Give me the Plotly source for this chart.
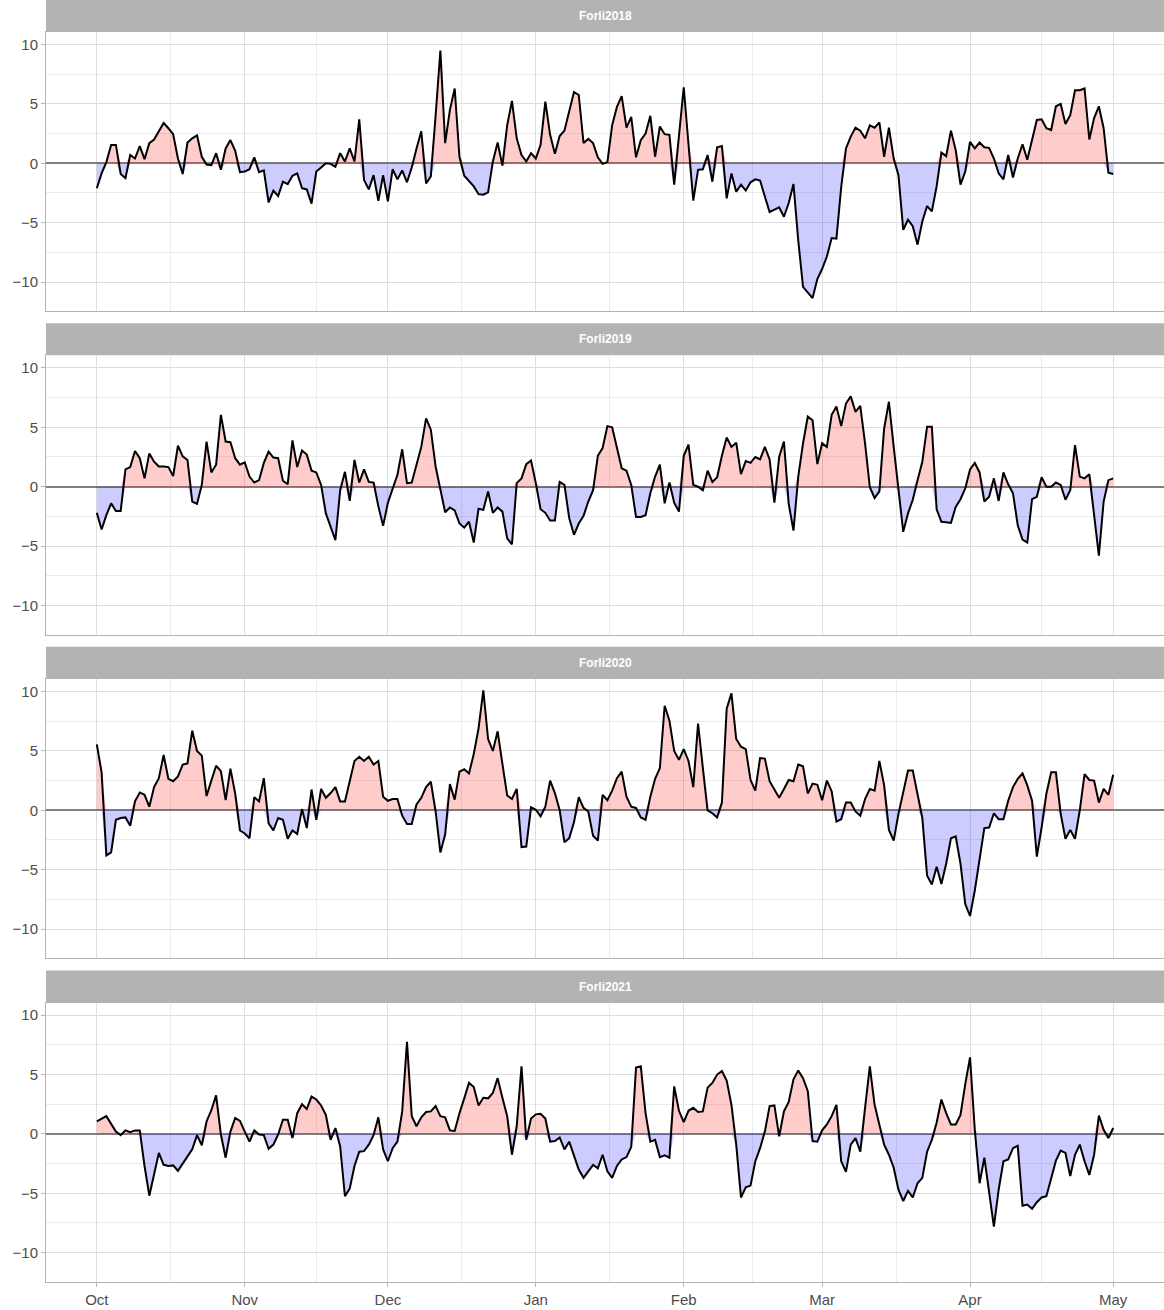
import numpy as np
import pandas as pd
import plotly.graph_objects as go

# ---------------- data (daily anomaly, 1 Oct -> 1 May) ----------------
panel_names = ["Forli2018", "Forli2019", "Forli2020", "Forli2021"]
month_labels = ["Oct", "Nov", "Dec", "Jan", "Feb", "Mar", "Apr", "May"]
y_ticks = [-10, -5, 0, 5, 10]

v2018 = [
    -2.1, -0.85, 0.1, 1.55, 1.55, -0.9, -1.25, 0.7, 0.4, 1.45,
    0.35, 1.7, 2.0, 2.65, 3.4, 2.95, 2.45, 0.4, -0.9, 1.75,
    2.1, 2.35, 0.55, -0.1, -0.15, 0.85, -0.55, 1.25, 1.95, 1.05,
    -0.75, -0.7, -0.5, 0.5, -0.75, -0.6, -3.3, -2.3, -2.75, -1.55,
    -1.75, -1.05, -0.85, -2.1, -2.2, -3.4, -0.7, -0.35, 0.0, -0.05,
    -0.3, 0.85, 0.15, 1.25, 0.15, 3.7, -1.4, -2.2, -1.0, -3.15,
    -1.0, -3.2, -0.5, -1.35, -0.6, -1.6, -0.35, 1.25, 2.7, -1.7,
    -1.1, 4.0, 9.5, 1.7, 4.5, 6.3, 0.55, -1.05, -1.55, -1.95,
    -2.6, -2.65, -2.45, 0.15, 1.75, -0.2, 3.2, 5.25, 2.1, 0.7,
    0.15, 0.85, 0.4, 1.55, 5.2, 2.4, 0.8, 2.3, 2.75, 4.5,
    6.0, 5.75, 1.7, 2.05, 1.7, 0.5, -0.05, 0.1, 3.2, 4.75,
    5.65, 3.0, 3.9, 0.5, 1.95, 2.5, 4.0, 0.55, 3.1, 2.45,
    2.4, -1.8, 2.3, 6.4, 1.6, -3.15, -0.55, -0.5, 0.7, -1.55,
    1.35, 1.45, -2.95, -0.85, -2.4, -1.8, -2.3, -1.6, -1.35, -1.45,
    -2.8, -4.1, -3.9, -3.7, -4.5, -3.35, -1.75, -6.5, -10.4, -10.9,
    -11.35, -9.75, -8.9, -7.85, -6.3, -6.35, -2.0, 1.25, 2.25, 3.0,
    2.75, 2.1, 3.2, 3.0, 3.45, 0.55, 3.0, 0.4, -1.0, -5.6,
    -4.75, -5.3, -6.85, -4.9, -3.6, -4.05, -1.95, 0.9, 0.6, 2.75,
    1.1, -1.8, -0.7, 1.8, 1.25, 1.75, 1.35, 1.3, 0.4, -0.85,
    -1.35, 0.7, -1.2, 0.4, 1.6, 0.3, 1.95, 3.65, 3.7, 2.95,
    2.8, 4.8, 5.0, 3.3, 4.05, 6.15, 6.15, 6.3, 2.0, 3.8,
    4.8, 2.95, -0.8, -0.9,
]

v2019 = [
    -2.2, -3.6, -2.4, -1.4, -2.05, -2.05, 1.45, 1.65, 3.0, 2.4,
    0.7, 2.8, 2.1, 1.7, 1.7, 1.65, 0.9, 3.45, 2.55, 2.25,
    -1.25, -1.45, 0.15, 3.8, 1.2, 1.85, 6.05, 3.8, 3.75, 2.4,
    1.85, 2.05, 0.85, 0.35, 0.55, 2.0, 2.95, 2.45, 2.4, 0.5,
    0.2, 3.9, 1.65, 3.05, 2.7, 1.35, 1.2, 0.15, -2.25, -3.35,
    -4.5, -0.3, 1.25, -1.2, 2.25, 0.35, 1.45, 0.4, 0.35, -1.65,
    -3.3, -1.35, -0.15, 1.0, 3.15, 0.3, 0.35, 1.85, 3.35, 5.75,
    4.8, 1.7, -0.3, -2.15, -1.75, -2.0, -3.1, -3.45, -2.95, -4.7,
    -1.85, -1.95, -0.4, -2.2, -1.75, -2.1, -4.35, -4.85, 0.3, 0.7,
    1.9, 2.2, 0.3, -1.9, -2.2, -2.85, -2.85, 0.4, 0.15, -2.65,
    -4.05, -3.1, -2.45, -1.25, -0.3, 2.6, 3.25, 5.1, 5.0, 3.35,
    1.55, 1.35, 0.15, -2.55, -2.55, -2.4, -0.55, 0.85, 1.85, -1.4,
    0.35, -1.35, -2.1, 2.6, 3.55, 0.15, 0.0, -0.3, 1.35, 0.4,
    0.8, 2.6, 4.15, 3.35, 3.7, 1.05, 2.15, 2.0, 2.5, 2.3,
    3.35, 2.3, -1.35, 2.5, 3.8, -1.45, -3.7, 0.85, 3.65, 5.9,
    5.6, 1.9, 3.65, 3.35, 6.05, 6.75, 5.1, 7.0, 7.6, 6.3,
    6.8, 3.65, -0.05, -0.95, -0.4, 4.9, 7.15, 3.35, -0.3, -3.8,
    -2.25, -1.1, 0.55, 2.1, 5.05, 5.05, -1.9, -2.95, -3.0, -3.05,
    -1.7, -1.05, -0.15, 1.45, 2.0, 1.2, -1.25, -0.85, 0.7, -1.2,
    1.2, 0.2, -0.55, -3.25, -4.45, -4.7, -1.05, -0.85, 0.8, 0.0,
    0.0, 0.35, 0.15, -1.1, -0.3, 3.5, 0.85, 0.7, 1.05, -2.6,
    -5.8, -1.25, 0.55, 0.7,
]

v2020 = [
    5.55, 3.2, -3.8, -3.55, -0.8, -0.65, -0.6, -1.3, 0.75, 1.5,
    1.3, 0.3, 1.95, 2.7, 4.65, 2.65, 2.45, 2.85, 3.85, 3.95,
    6.7, 5.0, 4.6, 1.2, 2.5, 3.75, 3.3, 0.85, 3.5, 1.4,
    -1.7, -1.95, -2.35, 1.1, 0.75, 2.7, -1.1, -1.7, -0.65, -0.8,
    -2.4, -1.7, -2.0, 0.1, -1.5, 1.75, -0.8, 1.8, 1.05, 1.45,
    1.95, 0.75, 0.75, 2.55, 4.15, 4.5, 4.15, 4.5, 3.85, 4.15,
    1.15, 0.8, 0.95, 0.95, -0.45, -1.15, -1.15, 0.5, 1.05, 1.95,
    2.4, -0.1, -3.55, -2.05, 2.2, 0.9, 3.25, 3.45, 3.1, 4.75,
    6.9, 10.1, 6.0, 5.0, 6.65, 3.9, 1.25, 0.95, 1.8, -3.1,
    -3.05, 0.25, 0.05, -0.5, 0.3, 2.5, 1.45, 0.0, -2.7, -2.35,
    -1.0, 1.1, 0.2, -0.1, -2.15, -2.55, 1.3, 0.85, 1.65, 2.7,
    3.25, 1.15, 0.3, 0.2, -0.6, -0.8, 1.15, 2.65, 3.55, 8.8,
    7.55, 5.0, 4.25, 5.15, 4.15, 1.95, 7.3, 3.6, 0.0, -0.25,
    -0.6, 0.65, 8.55, 9.85, 6.0, 5.35, 5.15, 2.55, 1.65, 4.4,
    4.35, 2.45, 1.7, 1.05, 1.8, 2.55, 2.45, 3.85, 3.7, 1.4,
    2.25, 2.15, 0.85, 2.5, 1.6, -0.95, -0.75, 0.65, 0.65, -0.1,
    -0.45, 0.95, 1.8, 1.65, 4.15, 2.1, -1.65, -2.55, -0.3, 1.65,
    3.35, 3.35, 1.5, -0.65, -5.5, -6.25, -4.75, -6.2, -4.5, -2.35,
    -2.2, -4.5, -7.9, -8.9, -6.75, -4.1, -1.5, -1.45, -0.25, -0.75,
    -0.75, 0.8, 1.95, 2.65, 3.1, 2.1, 0.8, -3.9, -1.45, 1.4,
    3.2, 3.2, -0.3, -2.4, -1.65, -2.4, 0.0, 3.05, 2.55, 2.5,
    0.65, 1.8, 1.3, 3.0,
]

v2021 = [
    1.05, 1.3, 1.5, 0.85, 0.2, -0.1, 0.3, 0.15, 0.3, 0.3,
    -2.7, -5.2, -3.45, -1.6, -2.6, -2.7, -2.65, -3.1, -2.5, -1.95,
    -1.3, -0.1, -0.95, 1.05, 2.0, 3.25, -0.05, -2.0, 0.2, 1.35,
    1.1, 0.2, -0.65, 0.3, -0.05, -0.1, -1.25, -0.9, -0.05, 1.2,
    1.2, -0.35, 1.75, 2.5, 2.1, 3.15, 2.9, 2.4, 1.6, -0.5,
    0.5, -1.05, -5.25, -4.6, -2.7, -1.5, -1.45, -0.9, -0.1, 1.4,
    -1.3, -2.3, -1.2, -0.65, 1.9, 7.75, 1.5, 0.65, 1.4, 1.85,
    1.9, 2.35, 1.5, 1.4, 0.3, 0.25, 1.75, 3.0, 4.3, 3.95,
    2.4, 3.05, 3.0, 3.45, 4.7, 3.05, 1.5, -1.75, 0.65, 5.7,
    -0.5, 1.3, 1.65, 1.7, 1.3, -0.65, -0.6, -0.3, -1.3, -0.65,
    -1.75, -3.0, -3.7, -3.1, -2.6, -2.9, -1.75, -3.15, -3.7, -2.7,
    -2.15, -1.95, -1.1, 5.6, 5.7, 1.75, -0.65, -0.5, -1.95, -1.8,
    -2.0, 4.0, 1.95, 1.0, 1.95, 2.2, 1.85, 1.9, 3.9, 4.3,
    5.0, 5.3, 4.5, 2.45, -0.9, -5.35, -4.5, -4.35, -2.3, -1.2,
    0.2, 2.35, 2.4, -0.2, 1.9, 2.7, 4.6, 5.35, 4.7, 3.6,
    -0.6, -0.65, 0.3, 0.8, 1.5, 2.45, -2.3, -3.2, -0.9, -0.35,
    -1.5, 2.2, 5.7, 2.45, 0.8, -0.9, -1.75, -2.85, -4.7, -5.65,
    -4.8, -5.35, -4.15, -3.7, -1.5, -0.5, 0.95, 2.9, 1.75, 0.8,
    0.8, 1.6, 4.2, 6.45, 0.35, -4.15, -2.0, -4.85, -7.8, -4.7,
    -2.3, -2.15, -1.2, -1.0, -6.05, -5.95, -6.3, -5.75, -5.35, -5.25,
    -3.85, -2.25, -1.4, -1.6, -3.55, -1.75, -0.9, -2.3, -3.45, -1.75,
    1.55, 0.35, -0.35, 0.5,
]

series_values = [v2018, v2019, v2020, v2021]

# common (leap-year) date axis, 1 Oct -> 1 May
dates = pd.date_range("2019-10-01", "2020-05-01", freq="D")
month_starts = pd.date_range("2019-10-01", "2020-05-01", freq="MS")
minor_x = [month_starts[i] + (month_starts[i + 1] - month_starts[i]) / 2
           for i in range(len(month_starts) - 1)]
pad = pd.Timedelta(days=(dates[-1] - dates[0]).days * 0.05)
x_range = [dates[0] - pad, dates[-1] + pad]
y_range = [-12.47, 11.07]

# ---------------- layout geometry (pixels) ----------------
W, H = 1164, 1310
M_L, M_R, M_T, M_B = 46, 0, 0, 28
plot_h_px = H - M_T - M_B
panel_top_px = [31.8, 355.2, 678.8, 1002.5]
panel_h_px = 279.6
strip_h_px = 32

FONT = "Liberation Sans, Arial, Helvetica, sans-serif"
GRID = "#DEDEDE"
MINOR = "#EBEBEB"
BORDER = "#B3B3B3"

fig = go.Figure()
shapes, annotations = [], []

for i, (name, vals) in enumerate(zip(panel_names, series_values)):
    sfx = "" if i == 0 else str(i + 1)
    xa, ya = "x" + sfx, "y" + sfx
    y = np.array(vals, dtype=float)
    n = min(len(y), len(dates))
    xd, y = dates[:n], y[:n]

    fig.add_trace(go.Scatter(x=xd, y=np.maximum(y, 0), mode="lines", fill="tozeroy",
                             fillcolor="rgba(255,0,0,0.2)", line=dict(width=0),
                             xaxis=xa, yaxis=ya, hoverinfo="skip", showlegend=False))
    fig.add_trace(go.Scatter(x=xd, y=np.minimum(y, 0), mode="lines", fill="tozeroy",
                             fillcolor="rgba(0,0,255,0.2)", line=dict(width=0),
                             xaxis=xa, yaxis=ya, hoverinfo="skip", showlegend=False))
    fig.add_trace(go.Scatter(x=xd, y=y, mode="lines", line=dict(color="black", width=2),
                             xaxis=xa, yaxis=ya, showlegend=False, name=name))

    top = panel_top_px[i] - M_T
    d0 = (plot_h_px - (top + panel_h_px)) / plot_h_px
    d1 = (plot_h_px - top) / plot_h_px
    d0 = max(d0, 0.0)

    fig.layout["xaxis" + sfx] = dict(
        domain=[0, 1], anchor=ya, type="date", range=x_range,
        tickmode="array", tickvals=list(month_starts), ticktext=month_labels,
        showticklabels=(i == 3), ticks="outside" if i == 3 else "",
        ticklen=4, tickcolor=BORDER,
        tickfont=dict(family=FONT, size=15, color="#4D4D4D"),
        showgrid=True, gridcolor=GRID, gridwidth=1,
        minor=dict(tickmode="array", tickvals=minor_x, showgrid=True,
                   gridcolor=MINOR, gridwidth=1, ticks=""),
        showline=True, mirror=True, linecolor=BORDER, linewidth=1,
        zeroline=False, fixedrange=True,
    )
    fig.layout["yaxis" + sfx] = dict(
        domain=[d0, d1], anchor=xa, range=y_range,
        tickmode="array", tickvals=y_ticks, ticktext=[str(t).replace("-", "\u2212") for t in y_ticks],
        ticks="outside", ticklen=4, tickcolor=BORDER,
        tickfont=dict(family=FONT, size=15, color="#4D4D4D"),
        showgrid=True, gridcolor=GRID, gridwidth=1,
        minor=dict(tickmode="array", tickvals=[-7.5, -2.5, 2.5, 7.5], showgrid=True,
                   gridcolor=MINOR, gridwidth=1, ticks=""),
        zeroline=True, zerolinecolor="#808080", zerolinewidth=1.6,
        showline=True, mirror=True, linecolor=BORDER, linewidth=1,
        fixedrange=True,
    )

    s0 = d1
    s1 = d1 + strip_h_px / plot_h_px
    shapes.append(dict(type="rect", xref="paper", yref="paper", x0=0, x1=1, y0=s0, y1=s1,
                       fillcolor=BORDER, line=dict(width=0), layer="above"))
    annotations.append(dict(text="<b>%s</b>" % name, xref="paper", yref="paper",
                            x=0.5, y=(s0 + s1) / 2, xanchor="center", yanchor="middle",
                            showarrow=False, font=dict(family=FONT, size=12, color="white")))

fig.update_layout(
    width=W, height=H,
    margin=dict(l=M_L, r=M_R, t=M_T, b=M_B),
    paper_bgcolor="white", plot_bgcolor="white",
    shapes=shapes, annotations=annotations,
    showlegend=False,
)

fig.write_html(
    "out.html", include_plotlyjs=True, config={"displayModeBar": False},
    post_script="document.body.style.margin='0';document.body.style.padding='0';"
                "document.body.style.overflow='hidden';",
)
